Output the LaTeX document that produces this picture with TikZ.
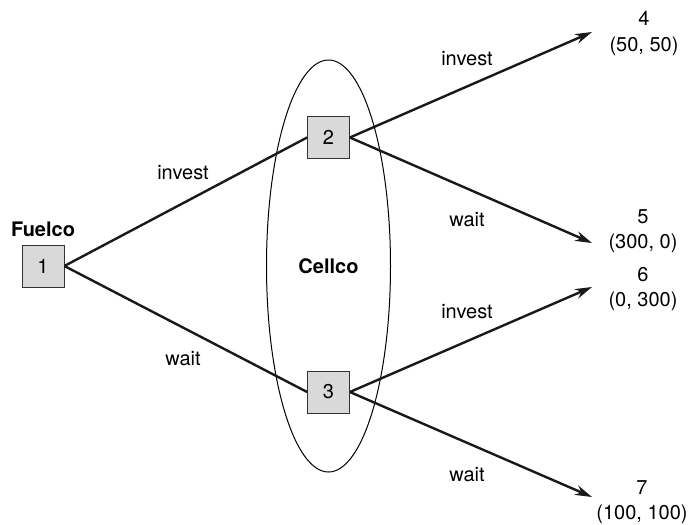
\documentclass[tikz,border=0pt]{standalone}
\usepackage{fontspec}
\setmainfont{TeX Gyre Heros}
\usepackage{tikz}
\usetikzlibrary{positioning, shapes, arrows.meta, calc}

\begin{document}
\begin{tikzpicture}[x=1pt, y=-1pt,
  every node/.style={font=\fontsize{20}{25.5}\selectfont},
  bx/.style={draw=black!80, fill=black!15, minimum size=42pt, inner sep=0pt, line width=0.8pt},
  edg/.style={line width=2.4pt, black!90},
  arr/.style={edg, -{Stealth[length=17pt, width=10pt]}},
  pay/.style={align=center},
]
\useasboundingbox (0,0) rectangle (694,525);

% ── Cellco's information set ──
\node[draw, ellipse, line width=1pt, minimum width=124pt, minimum height=412pt] (cellco) at (328.5,266) {\textbf{Cellco}};

% ── decision boxes ──
\node[bx] (b1) at (43,266) {1};
\node[bx] (b2) at (328.5,137.5) {2};
\node[bx] (b3) at (328.5,392) {3};
\node (fuelco) at (43,229) {\textbf{Fuelco}};

% ── end points and payoffs ──
\coordinate (t4) at (592,32);
\coordinate (t5) at (592,243);
\coordinate (t6) at (592,287);
\coordinate (t7) at (592,497);
\node[pay] (p4) at (644,33.5) {4\\(50, 50)};
\node[pay] (p5) at (643,231) {5\\(300, 0)};
\node[pay] (p6) at (643,289) {6\\(0, 300)};
\node[pay] (p7) at (642,502) {7\\(100, 100)};

% ── branches ──
\draw[edg] (b1.east) -- (b2.west);
\draw[edg] (b1.east) -- (b3.west);
\draw[arr] (b2.east) -- (t4);
\draw[arr] (b2.east) -- (t5);
\draw[arr] (b3.east) -- (t6);
\draw[arr] (b3.east) -- (t7);

% ── branch labels ──
\node (l12) at (183,173) {invest};
\node (l13) at (183,359) {wait};
\node (l24) at (467,59) {invest};
\node (l25) at (467,220) {wait};
\node (l36) at (467,312) {invest};
\node (l37) at (467,475) {wait};
\end{tikzpicture}
\end{document}
